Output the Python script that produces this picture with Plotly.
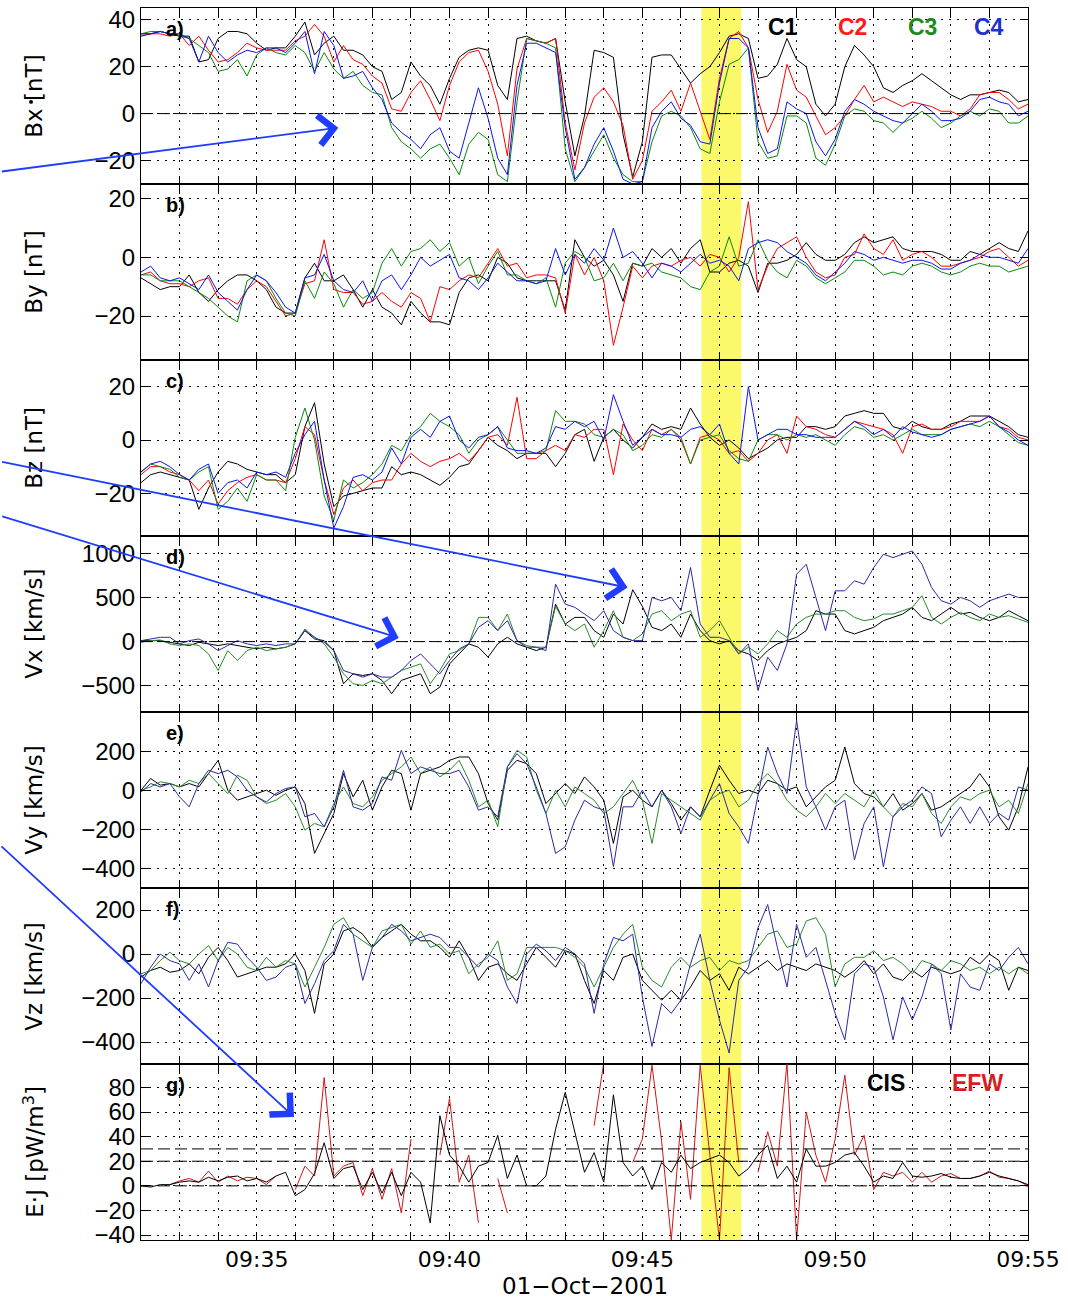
import pandas as pd
import plotly.graph_objects as go
from plotly.subplots import make_subplots

# 15-second samples, 09:32:00 - 09:55:00 UT, 01-Oct-2001
t = pd.date_range("2001-10-01 09:32:00", "2001-10-01 09:55:00", freq="15s")

# ---------------- magnetic field (FGM), nT ----------------
bx_c1 = [33, 34, 35, 34, 33, 33, 22, 23,
         32, 35, 35, 34, 30, 27, 28, 28,
         33, 39, 25, 30, 33, 27, 27, 25,
         20, 18, 6, 9, 22, 16, 12, 4,
         15, 24, 27, 28, 27, 12, 6, 32,
         33, 31, 30, 32, 5, -18, -1, 27,
         26, 24, -9, -27, -12, 24, 25, 25,
         19, 13, 17, 20, 26, 33, 34, 32,
         15, 16, 21, 32, 23, 20, 4, -1,
         4, 20, 29, 25, 20, 11, 9, 12,
         14, 17, 14, 11, 8, 6, 8, 8,
         9, 10, 9, 5, 6]
bx_c2 = [34, 34, 34, 33, 34, 29, 33, 27,
         22, 23, 26, 30, 28, 27, 27, 27,
         31, 33, 38, 33, 22, 29, 23, 21,
         16, 13, 2, 1, 9, 14, 6, -3,
         12, 22, 26, 27, 18, 4, -18, 19,
         32, 31, 30, 32, -4, -24, -4, 7,
         11, 5, -5, -28, -20, 1, 5, 10,
         1, 13, 1, -11, 15, 32, 35, 28,
         6, -8, 1, 21, 10, 7, -1, -9,
         -6, -1, 6, 12, 5, 7, 5, 3,
         5, 4, 3, 1, 1, -1, 2, 8,
         9, 9, 6, 2, 4]
bx_c3 = [34, 35, 35, 34, 33, 32, 29, 26,
         18, 19, 23, 16, 25, 28, 26, 25,
         29, 26, 18, 26, 19, 15, 18, 12,
         9, 8, -6, -12, -15, -19, -15, -13,
         -19, -26, -13, -8, -11, -26, -29, 5,
         32, 31, 30, 28, -15, -29, -23, -16,
         -9, -19, -26, -29, -29, -12, -1, 1,
         -1, -6, -15, -17, 5, 21, 23, 28,
         -12, -19, -18, -1, -1, -4, -19, -22,
         -13, -1, 2, 1, -3, -4, -8, -4,
         -2, 1, -2, -6, -4, -1, 1, -1,
         2, 1, -4, -4, -1]
bx_c4 = [34, 34, 35, 34, 34, 32, 22, 33,
         26, 22, 25, 27, 26, 28, 28, 26,
         30, 35, 17, 35, 29, 15, 16, 18,
         11, 6, -4, -8, -11, -15, -9, -6,
         -16, -19, -4, 11, -2, -19, -26, 12,
         30, 30, 28, 26, -6, -28, -23, -13,
         -6, -16, -28, -30, -29, -6, 1, 5,
         -2, -5, -12, -13, 13, 32, 32, 28,
         -6, -17, -15, 5, 2, 0, -12, -18,
         -11, 1, 6, 4, 1, -1, -3, -4,
         0, 4, 1, -3, -3, -2, 1, 6,
         7, 5, 4, -1, 1]

by_c1 = [-7, -9, -11, -10, -10, -6, -12, -15,
         -11, -8, -6, -6, -8, -11, -17, -19,
         -19, -7, -2, -8, -8, -6, -11, -17,
         -11, -17, -19, -23, -15, -19, -22, -22,
         -23, -12, -7, -6, -8, 0, -2, -7,
         -8, -8, -8, -8, -18, 6, 0, -3,
         -1, -6, -15, -2, -3, 3, 0, 3,
         -2, 3, 6, -5, -5, -2, -1, -3,
         -12, -2, -2, -1, 1, 5, 1, -1,
         -1, 1, 5, 7, 5, 6, 7, 3,
         2, 2, 2, 1, -1, -1, 2, 1,
         3, 5, 3, 2, 9]
by_c2 = [-6, -5, -8, -9, -9, -10, -8, -7,
         -14, -14, -16, -11, -8, -10, -15, -20,
         -19, -9, -8, 6, -11, -12, -12, -16,
         -15, -12, -15, -17, -12, -14, -22, -10,
         -11, -8, -6, -7, -2, 3, -3, -2,
         -7, -6, -6, -7, -19, 1, -6, 0,
         -8, -30, -17, -3, -7, -3, -2, -3,
         -1, 0, -3, 1, 0, -5, 0, 19,
         -11, -3, 3, 5, 7, 0, -5, -7,
         -6, 0, 1, 8, 3, 1, 6, -1,
         1, 2, 0, -3, -3, -2, -1, 0,
         2, 3, 0, -3, -1]
by_c3 = [-6, -6, -8, -8, -8, -10, -12, -14,
         -17, -20, -22, -8, -6, -8, -14, -19,
         -20, -8, -14, -5, -9, -17, -11, -14,
         -12, -2, 3, -3, 2, 3, 6, 2,
         5, -3, 0, -9, -3, 2, -6, -6,
         -8, -9, -7, -17, -2, 2, 0, -8,
         -7, -2, -8, -2, -3, -2, -5, -6,
         -7, -10, -11, -5, -3, 7, -3, -2,
         6, -1, -5, -7, -1, -3, -7, -9,
         -7, -5, -1, -1, -3, -6, -5, -6,
         -3, -2, -3, -5, -6, -5, -3, -2,
         -3, -3, -5, -4, -3]
by_c4 = [-5, -3, -7, -8, -7, -9, -11, -6,
         -12, -15, -18, -11, -6, -8, -12, -17,
         -19, -7, -6, 1, -8, -11, -12, -8,
         -15, -8, -6, -11, -6, 0, -3, -1,
         1, -7, -8, -11, -7, -2, -5, -8,
         -8, -9, -8, 3, -6, 1, -2, 3,
         -1, 10, 0, 2, -2, -7, -2, -3,
         -5, -2, 1, -2, -1, -3, -8, 3,
         5, 6, 5, 2, 0, -2, -6, -8,
         -5, -2, 2, 1, -1, 0, -1, -2,
         -1, -1, -2, -4, -4, -2, -1, 1,
         0, 0, -1, -2, 3]

bz_c1 = [-16, -13, -12, -13, -14, -15, -26, -18,
         -12, -8, -9, -11, -12, -13, -13, -16,
         -13, 5, 14, -9, -25, -21, -20, -19,
         -18, -18, -10, -13, -12, -13, -15, -17,
         -14, -10, -9, -4, 1, -2, -4, -7,
         -5, -5, -5, -10, -5, 2, 4, -8,
         1, 4, 0, -3, 1, 6, 4, 5,
         4, 12, 6, 1, -2, 0, -3, -7,
         -5, -3, 0, 1, 1, 5, 5, 4,
         5, 9, 10, 11, 10, 10, 5, 4,
         7, 5, 4, 4, 6, 7, 9, 9,
         9, 7, 5, 2, 1]
bz_c2 = [-13, -10, -10, -12, -13, -15, -19, -15,
         -24, -19, -16, -14, -13, -15, -15, -16,
         -7, 5, 2, -15, -28, -18, -15, -19,
         -16, -15, -15, -9, -5, -8, -10, -8,
         -7, -5, -8, -4, 1, 2, -2, 16,
         -7, -7, -4, -2, -4, 2, 1, 4,
         4, -13, 6, 0, -4, 4, 2, 4,
         0, -9, 1, 2, 0, -5, -4, -8,
         -5, 0, 2, -5, 9, 5, 4, 2,
         1, 4, 7, 6, 5, 4, 2, -5,
         5, 6, 4, 4, 5, 7, 7, 7,
         9, 5, 4, 1, 0]
bz_c3 = [-12, -9, -10, -11, -14, -15, -12, -10,
         -26, -23, -18, -23, -13, -15, -15, -19,
         1, 12, 0, -21, -30, -15, -18, -16,
         -13, -9, -2, -4, 2, 5, 10, 7,
         5, 2, -5, 0, 2, 5, 0, -5,
         -5, -5, -4, 11, 7, 7, 6, 2,
         1, 4, 2, -4, -2, 2, 1, 4,
         1, -9, 0, 1, 2, -4, -7, -8,
         0, 2, 2, 0, 2, 1, 2, 0,
         -2, 2, 5, 4, 1, 2, 0, 2,
         4, 2, 2, 2, 4, 5, 6, 5,
         7, 5, 2, -1, -2]
bz_c4 = [-12, -9, -8, -10, -13, -15, -11, -9,
         -20, -16, -15, -18, -12, -13, -12, -14,
         -5, 2, 7, -15, -33, -25, -14, -13,
         -15, -12, -3, -9, 1, 4, 1, 7,
         9, 0, -3, 1, 2, 5, -3, -4,
         -4, -5, -3, 5, 4, 7, 5, 7,
         0, 17, 7, -2, 1, 4, 2, 2,
         1, 4, 5, 2, 6, -5, -9, 20,
         0, 2, 4, 4, 2, 2, 1, 1,
         1, 4, 7, 5, 2, 4, 1, 5,
         3, 2, 1, 2, 4, 5, 6, 7,
         9, 5, 3, 0, -2]

# ---------------- ion velocity (CIS), km/s ----------------
vx_c1 = [11, 11, 11, -8, -26, -45, -8, -26,
         -45, -26, -45, -64, -83, -64, -83, -64,
         -26, 125, 30, 11, -102, -479, -366, -385,
         -366, -441, -592, -441, -404, -366, -592, -517,
         -253, -140, -26, -64, -177, -26, 49, -26,
         -64, -102, -64, 426, 200, 275, 275, 125,
         49, 313, 200, 590, 400, 162, 125, 200,
         49, 313, 125, 11, -26, 11, -102, -140,
         -215, -102, -26, 11, 49, 125, 351, 313,
         313, 125, 87, 125, 162, 238, 275, 313,
         389, 275, 238, 313, 389, 313, 332, 275,
         238, 275, 351, 294, 238]
vx_c3 = [-8, 11, 19, -26, -45, -26, -45, -140,
         -328, -102, -215, -102, -64, -102, -83, -64,
         -26, 143, 49, -26, -177, -366, -479, -498,
         -441, -479, -404, -328, -291, -253, -479, -328,
         -140, -102, -26, 275, 275, 125, 313, 11,
         -45, -64, -64, 400, 200, 125, 200, -64,
         125, 351, 49, 11, 87, 313, 351, 238,
         313, 351, 49, 125, 238, 49, -140, -64,
         -140, -26, 125, 49, 200, 275, 313, 313,
         351, 351, 275, 238, 257, 313, 313, 351,
         389, 521, 275, 200, 275, 332, 275, 238,
         313, 275, 294, 257, 219]
vx_c4 = [11, 30, 49, 49, -26, 11, 30, -26,
         -102, -45, 11, -26, -45, -26, -45, -26,
         -26, 125, 49, -8, -102, -328, -366, -404,
         -366, -404, -404, -328, -215, -140, -253, -366,
         -215, -83, -26, 162, 238, 125, 238, 11,
         -64, -64, -102, 653, 426, 389, 313, 238,
         351, 125, 49, 11, 11, 502, 464, 502,
         351, 842, 200, 49, 49, 11, -140, -26,
         -555, -177, -328, -26, 766, 879, 502, 125,
         577, 577, 691, 653, 842, 993, 955, 993,
         1030, 879, 615, 464, 426, 502, 464, 389,
         464, 502, 540, 502, 502]

vy_c1 = [0, 60, 26, 34, 17, 34, 17, 85,
         153, 0, -51, -34, -17, 0, -26, 0,
         17, -68, -323, -221, -119, 85, -34, 51,
         -102, 17, 102, 85, -102, 85, 102, 119,
         153, 170, 170, 85, -68, -153, 102, 153,
         136, 85, -68, -17, 34, -17, 68, 17,
         -51, -272, -34, 0, -51, -85, 0, -68,
         -153, -85, -136, 0, 128, 51, -17, 0,
         -17, 51, 34, 0, 17, -85, -34, 17,
         51, 221, 34, -17, -34, -85, -17, -102,
         -68, -17, -102, -85, -51, -17, 17, 85,
         17, -136, -204, -85, 119]
vy_c3 = [0, 17, 43, 34, 17, 51, 34, 85,
         34, -17, 77, 51, -34, -68, -51, -17,
         -85, -204, -170, -187, -68, 17, -68, -85,
         -34, 51, 85, 119, 170, 85, 119, 68,
         102, 153, 51, -85, -51, -187, 119, 204,
         170, 0, -119, 0, -85, 17, -17, -51,
         -119, -85, -17, 51, -51, -272, -17, -51,
         -85, -119, -153, -51, -17, 0, -85, -51,
         34, 85, 34, -51, -102, -136, -85, -17,
         -68, -17, -51, -85, 0, -85, -136, -68,
         -85, -17, -119, -170, -85, -34, -51, -17,
         0, -85, -51, -119, 34]
vy_c4 = [-9, 34, 17, 34, -34, -85, 34, 102,
         85, 102, 68, 0, -34, -60, -17, 9,
         17, -136, -119, -187, -85, 102, -85, -102,
         -68, 68, 51, 204, 85, 119, 102, 85,
         85, 102, 17, -102, -85, -136, 119, 187,
         136, 17, -119, -323, -289, -153, -51, -85,
         -102, -391, -85, -85, 0, -85, 0, -85,
         -221, -85, -136, -51, 34, -119, -187, -272,
         -17, 221, 85, -17, 357, 17, -85, -204,
         -85, -51, -357, -170, -85, -391, -136, -85,
         -51, 17, -17, -238, -153, -85, -170, -85,
         -170, -119, -153, 17, 0]

vz_c1 = [-105, -75, -60, -83, -75, -45, -90, -15,
         30, -30, -105, -90, -75, -60, -60, -45,
         0, -75, -270, -45, 0, 105, 120, 90,
         30, 75, 105, 135, 90, 60, 60, 30,
         -15, 60, -15, -120, -60, -45, -90, -120,
         -45, 30, -15, -60, 15, 0, -120, -225,
         -75, -120, -15, 0, -120, -165, -210, -165,
         -210, -150, -75, -120, -90, -165, -60, -90,
         -60, -30, -75, -45, -60, -75, -45, -60,
         -75, -105, -75, -30, -90, -45, -105, -120,
         -75, -105, -60, -75, -90, -75, -15, -45,
         0, -30, -165, -60, -75]
vz_c3 = [-90, -75, -30, 8, -30, -45, 0, 38,
         -30, 30, 0, -60, -75, -15, -60, -30,
         -45, -150, -60, 30, 135, 165, 90, 60,
         30, 105, 120, 135, 45, 105, 30, 45,
         0, 15, -90, -45, -15, 60, -120, -90,
         30, 30, 30, 30, 15, -15, -60, -150,
         -60, 30, 90, 135, -60, -120, -150, -60,
         -15, -60, -30, -15, -75, -30, -45, -30,
         30, 90, 105, 30, 45, 150, 165, 90,
         -150, -45, -15, -15, 15, -30, -15, -45,
         -90, -30, -45, -75, -30, -45, -75, -60,
         -90, -60, -90, -60, -90]
vz_c4 = [-135, -60, 0, -30, -45, -120, -45, -150,
         -30, 53, 45, -15, -60, -120, -105, -60,
         -45, -225, -135, -30, 15, 135, 90, -120,
         30, 75, 135, 105, 60, 75, 90, 75,
         30, 30, -15, -60, 0, -30, -150, -225,
         0, 45, 15, -30, 30, 0, -45, -270,
         -45, 75, 60, 90, -195, -420, -225, -270,
         -210, -45, 90, -120, -300, -450, -120, -60,
         120, 225, 30, -150, 135, -15, 30, -120,
         -270, -390, -90, -45, -60, -195, -390, -195,
         -300, -195, -45, -90, -345, -90, -150, -165,
         -45, -75, -15, 30, -45]

# ---------------- energy conversion E.J, pW/m^3 ----------------
ej_cis = [0, -1, 1, 1, 3, 4, 3, 7,
          4, 7, 8, 4, 6, 3, 8, 11,
          -8, -3, 10, 35, 6, 14, 16, -3,
          11, -6, 11, -8, 11, 3, -30, 57,
          25, 16, 3, 16, 19, 41, 6, 25,
          0, 0, 8, 46, 76, 44, 11, 27,
          3, 74, 19, 8, 16, -3, 19, 11,
          25, 14, 19, 22, 25, 19, 8, 14,
          25, 33, 6, 16, 3, 30, 16, 16,
          19, 25, 27, 16, 3, 8, 6, 19,
          8, 7, 8, 10, 7, 6, 6, 8,
          11, 8, 6, 4, 1]
ej_efw = [None, None, None, 1, 4, 6, 3, 12,
          3, 8, 4, 7, 6, 1, 8, None,
          -3, 16, 8, 88, 8, 16, 19, -8,
          14, -11, 14, -22, 38, None, None, 25,
          71, 3, 25, -30, None, 6, -22, None,
          None, None, None, None, None, None, None, 49,
          100, None, None, 19, 38, 98, 36, -44,
          52, -11, 98, 25, -44, 96, 19, None,
          11, 44, 16, 100, -44, 60, 25, 3,
          38, 90, 25, 41, -3, 11, 8, 11,
          3, 11, 3, 8, 10, 6, 6, 8,
          12, 7, 6, 4, 0]

for arr in (bx_c1, bx_c2, bx_c3, bx_c4, by_c1, by_c2, by_c3, by_c4,
            bz_c1, bz_c2, bz_c3, bz_c4, vx_c1, vx_c3, vx_c4,
            vy_c1, vy_c3, vy_c4, vz_c1, vz_c3, vz_c4, ej_cis, ej_efw):
    assert len(arr) == len(t), len(arr)

# axis setup
y_titles = ["Bx [nT]", "By [nT]", "Bz [nT]", "Vx [km/s]", "Vy [km/s]",
            "Vz [km/s]", "E·J [pW/m<sup>3</sup>]"]
y_ranges = [[-30, 45], [-35, 25], [-36, 30], [-800, 1200], [-500, 400],
            [-500, 300], [-44, 99]]
y_ticks = [[-20, 0, 20, 40], [-20, 0, 20], [-20, 0, 20],
           [-500, 0, 500, 1000], [-400, -200, 0, 200], [-400, -200, 0, 200],
           [-40, -20, 0, 20, 40, 60, 80]]
panel_tags = ["a)", "b)", "c)", "d)", "e)", "f)", "g)"]

tick_times = pd.date_range("2001-10-01 09:32", "2001-10-01 09:55", freq="1min")
tick_text = [tt.strftime("%H:%M") if tt.minute % 5 == 0 else "" for tt in tick_times]

band = ("2001-10-01 09:46:32", "2001-10-01 09:47:34")

B_COL = {"C1": "#000000", "C2": "#ff0000", "C3": "#0a8a0a", "C4": "#0a14f0"}
V_COL = {"C1": "#000000", "C3": "#2a8a2a", "C4": "#2a2aa8"}

fig = make_subplots(rows=7, cols=1, shared_xaxes=True, vertical_spacing=0)

def add_line(y, color, row, name):
    fig.add_trace(go.Scatter(x=t, y=y, mode="lines", name=name,
                             line=dict(color=color, width=1),
                             showlegend=False, connectgaps=False),
                  row=row, col=1)

for row, comps in ((1, (bx_c1, bx_c2, bx_c3, bx_c4)),
                   (2, (by_c1, by_c2, by_c3, by_c4)),
                   (3, (bz_c1, bz_c2, bz_c3, bz_c4))):
    for name, y in zip(("C1", "C2", "C3", "C4"), comps):
        add_line(y, B_COL[name], row, name)

for row, comps in ((4, (vx_c1, vx_c3, vx_c4)),
                   (5, (vy_c1, vy_c3, vy_c4)),
                   (6, (vz_c1, vz_c3, vz_c4))):
    for name, y in zip(("C1", "C3", "C4"), comps):
        add_line(y, V_COL[name], row, name)

add_line(ej_efw, "#d21414", 7, "EFW")
add_line(ej_cis, "#000000", 7, "CIS")

# highlighted interval
fig.add_vrect(x0=band[0], x1=band[1], fillcolor="#fbf86a", opacity=1,
              line_width=0, layer="below", row="all", col=1)

# reference levels
dash = "12px,5px"
fig.add_hline(y=0, line=dict(color="black", width=1, dash=dash), row=1, col=1)
fig.add_hline(y=0, line=dict(color="black", width=1, dash=dash), row=4, col=1)
for lvl in (0, 20, 30):
    fig.add_hline(y=lvl, line=dict(color="black", width=1, dash=dash), row=7, col=1)

tick_font = dict(family="Liberation Sans, Arial, sans-serif", size=24, color="black")
fig.update_xaxes(type="date", range=[t[0], t[-1]],
                 tickvals=list(tick_times), ticktext=tick_text,
                 ticks="inside", ticklen=8, tickwidth=1.2, tickcolor="black",
                 showline=True, linecolor="black", linewidth=1, mirror="ticks",
                 showgrid=True, gridcolor="black", gridwidth=1, griddash="2px,6px",
                 zeroline=False)
fig.update_xaxes(showticklabels=True, ticklabelstandoff=0,
                 tickfont=dict(family="DejaVu Sans, sans-serif", size=22, color="black"),
                 row=7, col=1)

for i in range(7):
    fig.update_yaxes(range=y_ranges[i], tickvals=y_ticks[i],
                     ticks="inside", ticklen=8, tickwidth=1.2, tickcolor="black",
                     showline=True, linecolor="black", linewidth=1, mirror="ticks",
                     showgrid=True, gridcolor="black", gridwidth=1, griddash="2px,6px",
                     zeroline=False, tickfont=tick_font, ticklabelstandoff=0,
                     row=i + 1, col=1)

ann = []
for i in range(7):
    yd = "y domain" if i == 0 else f"y{i + 1} domain"
    ann.append(dict(text=y_titles[i], xref="paper", yref=yd, x=-0.121, y=0.5,
                    textangle=-90, showarrow=False, xanchor="center", yanchor="middle",
                    font=dict(family="DejaVu Sans, sans-serif", size=23, color="black")))
    ann.append(dict(text=f"<b>{panel_tags[i]}</b>", xref="paper", yref=yd,
                    x=0.026, y=0.88, showarrow=False, xanchor="left", yanchor="middle",
                    font=dict(family="Liberation Sans, Arial, sans-serif", size=20,
                              color="black")))

legend_items = [("C1", "#000000", 0.724), ("C2", "#ff1a1a", 0.8016),
                ("C3", "#1f8a1f", 0.8805), ("C4", "#1f2fd0", 0.956)]
for label, col, xp in legend_items:
    ann.append(dict(text=f"<b>{label}</b>", xref="paper", yref="y domain", x=xp, y=0.892,
                    showarrow=False, xanchor="center", yanchor="middle",
                    font=dict(family="Liberation Sans, Arial, sans-serif", size=23, color=col)))
for label, col, xp in (("CIS", "#000000", 0.84), ("EFW", "#d81e1e", 0.9436)):
    ann.append(dict(text=f"<b>{label}</b>", xref="paper", yref="y7 domain", x=xp, y=0.89,
                    showarrow=False, xanchor="center", yanchor="middle",
                    font=dict(family="Liberation Sans, Arial, sans-serif", size=23, color=col)))

ann.append(dict(text="01−Oct−2001", xref="paper", yref="paper", x=0.5, y=-0.0373,
                showarrow=False, xanchor="center", yanchor="middle", borderpad=0,
                font=dict(family="DejaVu Sans, sans-serif", size=23, color="black")))

# pointer arrows
arrow = dict(text="", showarrow=True, arrowhead=4, arrowsize=3.2, arrowwidth=1.8,
             arrowcolor="#1f3dff", standoff=0)
ann.append(dict(arrow, xref="x", yref="y", x="2001-10-01 09:37:07", y=-6, ax=-338, ay=44))
ann.append(dict(arrow, xref="x4", yref="y4", x="2001-10-01 09:44:37", y=614, ax=-627, ay=-126))
ann.append(dict(arrow, xref="x4", yref="y4", x="2001-10-01 09:38:41", y=42, ax=-398, ay=-122))
ann.append(dict(arrow, xref="x7", yref="y7", x="2001-10-01 09:35:58", y=56, ax=-294, ay=-272))

fig.update_layout(
    width=1068, height=1298,
    margin=dict(l=141, r=40, t=6, b=58),
    paper_bgcolor="white", plot_bgcolor="white",
    annotations=ann,
    showlegend=False,
)
fig.add_shape(type="circle", xref="paper", yref="paper",
              x0=-0.1262, x1=-0.1217, y0=0.9222, y1=0.9254,
              fillcolor="black", line_width=0)

fig.write_html("out.html")
